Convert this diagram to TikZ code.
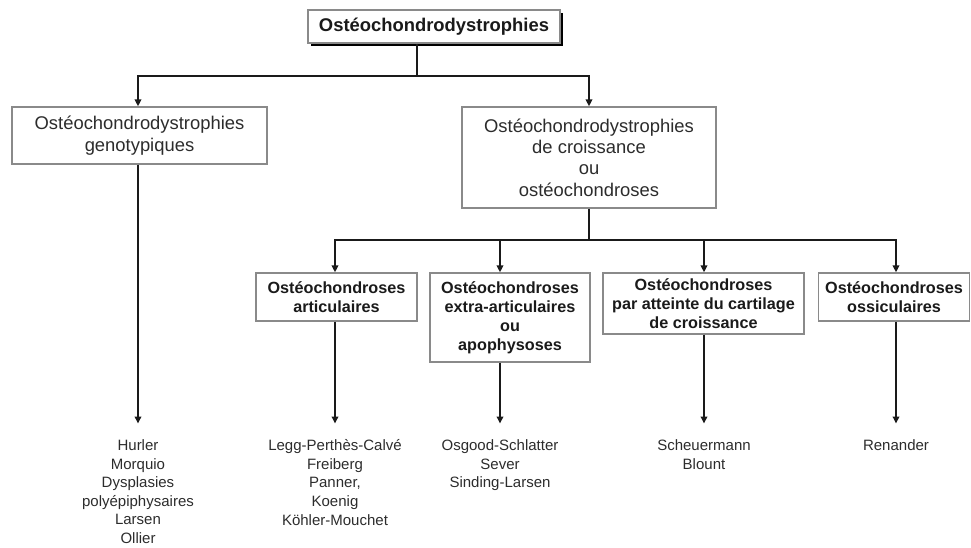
\documentclass[tikz,border=0pt]{standalone}
\usepackage{fontspec}
\setmainfont{Liberation Sans}
\usetikzlibrary{arrows.meta,shadows}
\definecolor{txt}{HTML}{2C2C2C}
\definecolor{boxgray}{HTML}{8A8A8A}
\definecolor{ink}{HTML}{1A1A1A}
\begin{document}
\begin{tikzpicture}[x=1pt,y=-1pt,
  box/.style={draw=boxgray, line width=1.3pt, fill=white, inner sep=0pt, align=center, text=txt},
  topbox/.style={box, font=\fontsize{18.4}{21}\selectfont\bfseries, text=ink,
    drop shadow={shadow xshift=3pt, shadow yshift=-3pt, fill=black, opacity=1}},
  lvtwo/.style={box, font=\fontsize{18.4}{21.3}\selectfont},
  lvthree/.style={box, font=\fontsize{16.2}{19}\selectfont\bfseries, text=ink},
  listtxt/.style={align=center, inner sep=0pt, anchor=north, text=txt, font=\fontsize{15}{18.6}\selectfont},
  conn/.style={line width=1.8pt, draw=ink},
  arr/.style={conn, -{Triangle[length=7pt,width=6.5pt]}}
]
\useasboundingbox (0,0) rectangle (971,547);

% top
\node[topbox, minimum width=252pt, minimum height=33pt] (top) at (434,26.5) {Ostéochondrodystrophies};

% level 2
\node[lvtwo, minimum width=255pt, minimum height=57pt] (geno) at (139.5,135.5)
  {Ostéochondrodystrophies\\genotypiques};
\node[lvtwo, minimum width=254pt, minimum height=101pt] (croi) at (589,157.5)
  {Ostéochondrodystrophies\\de croissance\\ou\\ostéochondroses};

% level 3
\node[lvthree, minimum width=161pt, minimum height=48pt] (art) at (336.5,297)
  {Ostéochondroses\\articulaires};
\node[lvthree, minimum width=160pt, minimum height=89pt] (extra) at (510,317.5)
  {Ostéochondroses\\extra-articulaires\\ou\\apophysoses};
\node[lvthree, minimum width=201pt, minimum height=61pt] (cart) at (703.5,303.5)
  {Ostéochondroses\\par atteinte du cartilage\\de croissance};
\node[lvthree, minimum width=151pt, minimum height=48pt] (oss) at (894,297)
  {Ostéochondroses\\ossiculaires};

% lists
\node[listtxt] (lgeno) at (138,439.5)
  {Hurler\\Morquio\\Dysplasies\\polyépiphysaires\\Larsen\\Ollier};
\node[listtxt] (lart) at (335,439.5)
  {Legg-Perthès-Calvé\\Freiberg\\Panner,\\Koenig\\Köhler-Mouchet};
\node[listtxt] (lextra) at (500,439.5)
  {Osgood-Schlatter\\Sever\\Sinding-Larsen};
\node[listtxt] (lcart) at (704,439.5)
  {Scheuermann\\Blount};
\node[listtxt] (loss) at (896,439.5)
  {Renander};

% connectors top -> level 2
\coordinate (j0) at (417,76);
\draw[conn] (top.south -| j0) -- (j0);
\draw[arr] (j0) -| (lgeno.north |- geno.north);
\draw[arr] (j0) -| (croi.north);

% connectors level 2 -> level 3
\coordinate (j1) at (589,240);
\draw[conn] (croi.south) -- (j1);
\draw[arr] (j1) -| (lart.north |- art.north);
\draw[arr] (j1) -| (lextra.north |- extra.north);
\draw[arr] (j1) -| (lcart.north |- cart.north);
\draw[arr] (j1) -| (loss.north |- oss.north);

% connectors to lists
\draw[arr, shorten >=16pt] (lgeno.north |- geno.south) -- (lgeno.north);
\draw[arr, shorten >=16pt] (lart.north |- art.south) -- (lart.north);
\draw[arr, shorten >=16pt] (lextra.north |- extra.south) -- (lextra.north);
\draw[arr, shorten >=16pt] (lcart.north |- cart.south) -- (lcart.north);
\draw[arr, shorten >=16pt] (loss.north |- oss.south) -- (loss.north);
\end{tikzpicture}
\end{document}
